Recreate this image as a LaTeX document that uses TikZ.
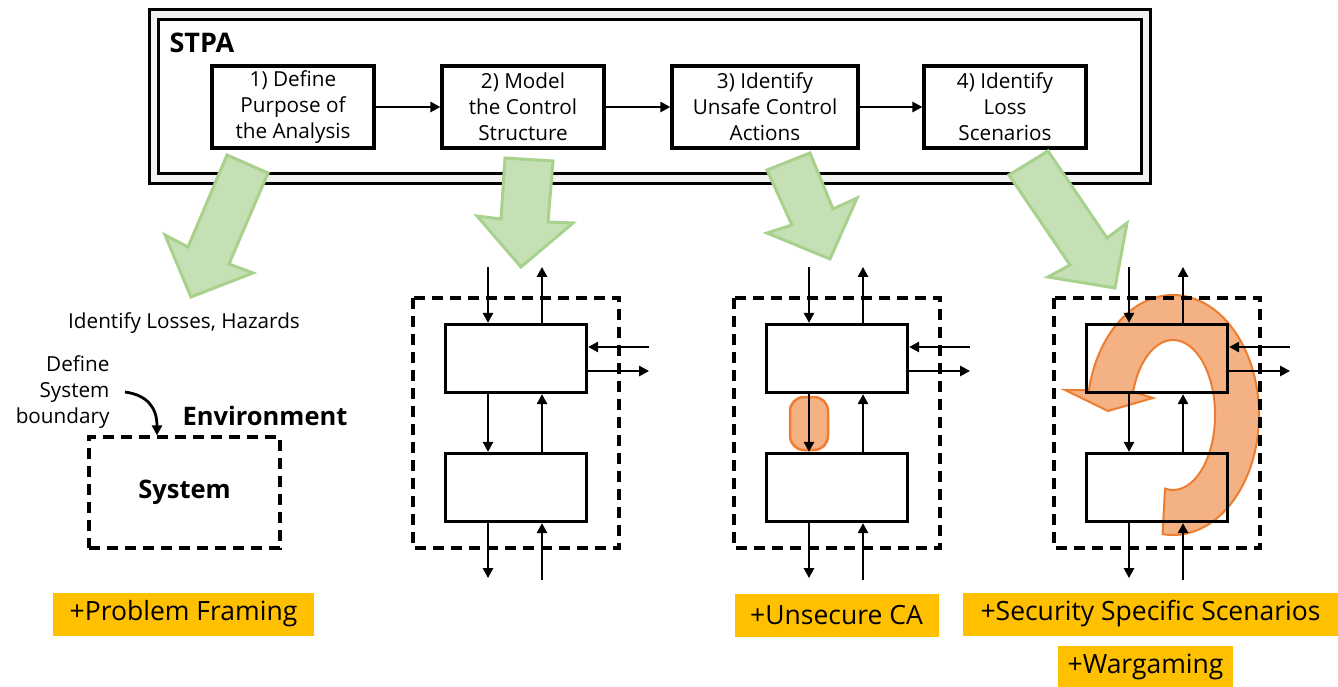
\documentclass[tikz,border=0pt]{standalone}
\usepackage{fontspec}
\setmainfont{Open Sans}
\usetikzlibrary{arrows.meta}
\definecolor{leafgreen}{HTML}{C5E0B4}
\definecolor{leafedge}{HTML}{A9D18E}
\definecolor{peach}{HTML}{F4B183}
\definecolor{peachedge}{HTML}{ED7D31}
\definecolor{amber}{HTML}{FFC000}
\definecolor{framegray}{HTML}{F2F2F2}

\begin{document}
\begin{tikzpicture}[x=1pt,y=-1pt,
  every node/.append style={font=\fontsize{20.7}{26}\selectfont},
  stepbox/.style={draw,line width=3.2pt,minimum width=162pt,minimum height=82pt,inner sep=0pt,align=center},
  unitbox/.style={draw,line width=3.2pt,minimum width=141pt,minimum height=68pt},
  fence/.style={line width=3.2pt,dash pattern=on 11pt off 7pt},
  sig/.style={line width=2.8pt,-{Triangle[length=10pt,width=10pt]}},
  bigarrow/.style={fill=leafgreen,draw=leafedge,line width=3pt},
  tag/.style={fill=amber,font=\fontsize{26.5}{30}\selectfont,minimum height=43pt,inner sep=0pt},
  heading/.style={font=\bfseries\fontsize{25.5}{30}\selectfont}]
  \useasboundingbox (0,0) rectangle (1338,687);

  % STPA frame with the four steps
  \draw[line width=3pt,fill=framegray] (149,10) rectangle (1150,184);
  \draw[line width=3pt,fill=white] (158,20) rectangle (1141,174);
  \node[anchor=west,font=\bfseries\fontsize{27}{30}\selectfont] (stpa) at (166,43) {STPA};
  \node[stepbox] (define) at (293,107) {1) Define\\Purpose of\\the Analysis};
  \node[stepbox] (model) at (523,107) {2) Model\\the Control\\Structure};
  \node[stepbox,minimum width=186pt] (unsafe) at (765,107) {3) Identify\\Unsafe Control\\Actions};
  \node[stepbox] (scen) at (1005,107) {4) Identify\\Loss\\Scenarios};
  \draw[sig] (define) -- (model);
  \draw[sig] (model) -- (unsafe);
  \draw[sig] (unsafe) -- (scen);

  % block arrows
  \draw[bigarrow] (227,155) -- (268,173) -- (229,264) -- (253,273) -- (191,297) -- (165,235) -- (188,247) -- cycle;
  \draw[bigarrow] (505,158) -- (553,161) -- (548,222) -- (573,223) -- (521,267) -- (477,216) -- (501,219) -- cycle;
  \draw[bigarrow] (767,170) -- (810,153) -- (833,209) -- (857,198) -- (830,259) -- (767,233) -- (792,225) -- cycle;
  \draw[bigarrow] (1009,175) -- (1048,151) -- (1107,238) -- (1127,223) -- (1115,288) -- (1048,277) -- (1070,265) -- cycle;

  % problem framing
  \node (losses) at (184,323) {Identify Losses, Hazards};
  \node[align=right,anchor=east] (bound) at (113,392) {Define\\System\\boundary};
  \node[heading] (env) at (265,416) {Environment};
  \node[draw,fence,heading,minimum width=191pt,minimum height=111pt] (sysbox) at (184.5,492.5) {System};
  \draw[sig] ([xshift=12pt]bound.east) .. controls +(22pt,-3pt) and +(0pt,28pt) .. ([xshift=-27.5pt]sysbox.north);

  % unsecure control action and scenario loop
  \node[fill=peach,draw=peachedge,line width=2.5pt,rounded corners=14pt,minimum width=38pt,minimum height=53pt] (ucapill) at (809,423.5) {};
  \draw[fill=peach,draw=peachedge,line width=2pt] (1173,415) ++(-97:86pt and 120pt)
    arc[start angle=-97,end angle=168,x radius=86pt,y radius=120pt]
    -- (1065,390) -- (1108,411) -- (1153,398) -- (1133.1,391.8)
    arc[start angle=162,end angle=-101,x radius=42pt,y radius=75pt] -- cycle;

  % control structures
  \foreach \i/\dx in {2/0,3/321,4/641}{
    \draw[fence] (413+\dx,298) rectangle (619+\dx,548);
    \node[unitbox] (ctrl\i) at (516+\dx,358.5) {};
    \node[unitbox] (proc\i) at (516+\dx,487.5) {};
    \draw[sig] ([xshift=-28pt]ctrl\i.north) ++(0,56pt) -- ([xshift=-28pt]ctrl\i.north);
    \draw[sig] ([xshift=26pt]ctrl\i.north) -- ++(0,56pt);
    \draw[sig] ([xshift=-28pt]ctrl\i.south) -- ([xshift=-28pt]proc\i.north);
    \draw[sig] ([xshift=26pt]proc\i.north) -- ([xshift=26pt]ctrl\i.south);
    \draw[sig] ([xshift=-28pt]proc\i.south) -- ++(0,-55pt);
    \draw[sig] ([xshift=26pt]proc\i.south) ++(0,-57pt) -- ([xshift=26pt]proc\i.south);
    \draw[sig] ([yshift=11.5pt]ctrl\i.east) ++(61pt,0) -- ([yshift=11.5pt]ctrl\i.east);
    \draw[sig] ([yshift=-12.5pt]ctrl\i.east) -- ++(61pt,0);
  }

  % extensions
  \node[tag,minimum width=261pt] (framing) at (183.5,614) {+Problem Framing};
  \node[tag,minimum width=204pt] (unsec) at (836.5,615.5) {+Unsecure CA};
  \node[tag,minimum width=375pt] (secscen) at (1150.5,614) {+Security Specific Scenarios};
  \node[tag,minimum width=175pt,minimum height=41pt] (wargame) at (1145.5,666.5) {+Wargaming};
\end{tikzpicture}
\end{document}
